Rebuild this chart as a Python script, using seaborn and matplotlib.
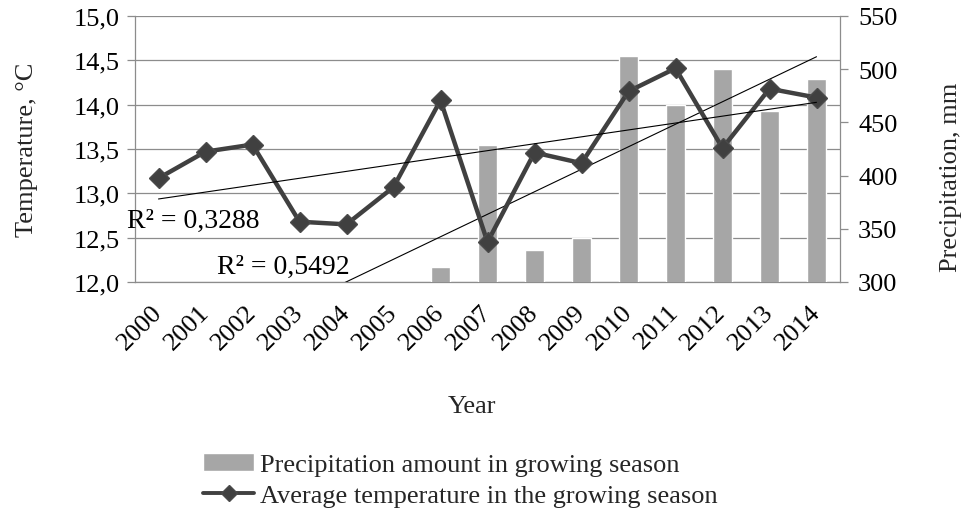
import numpy as np
import pandas as pd
import matplotlib
matplotlib.use("Agg")
import matplotlib.pyplot as plt
from matplotlib.ticker import FuncFormatter, MultipleLocator
import seaborn as sns

# ---------------- data ----------------
years = [str(y) for y in range(2000, 2015)]
temperature = [13.17, 13.47, 13.55, 12.68, 12.65, 13.07, 14.05, 12.45,
               13.46, 13.34, 14.15, 14.41, 13.51, 14.18, 14.08]
precipitation = [np.nan, np.nan, np.nan, np.nan, np.nan, np.nan,
                 314, 429, 330, 341, 512, 466, 500, 461, 491]
r2_temperature = "0,3288"
r2_precipitation = "0,5492"
label_precip = "Precipitation amount in growing season"
label_temp = "Average temperature in the growing season"
x_title = "Year"
y_left_title = "Temperature, °C"
y_right_title = "Precipitation, mm"

# ---------------- style ----------------
sns.set_theme(style="white")
plt.rcParams["font.family"] = ["Liberation Serif", "DejaVu Serif"]
FS = 19
plt.rcParams["font.size"] = FS

BAR = "#a6a6a6"
LINE = "#404040"
GRID = "#8c8c8c"

df = pd.DataFrame({"year": years, "temperature": temperature,
                   "precipitation": precipitation})
df["pos"] = np.arange(len(years))

fig = plt.figure(figsize=(9.65, 5.10), dpi=100)
fig.subplots_adjust(left=135 / 965, right=840 / 965,
                    top=1 - 17 / 510, bottom=1 - 283 / 510)
ax = fig.add_subplot(111)          # temperature axis (grid, left ticks)
ax2 = ax.twinx()                   # precipitation bars (right ticks)
ax3 = ax.twinx()                   # temperature line on top

# bars
sns.barplot(data=df, x="year", y="precipitation", order=years, ax=ax2,
            color=BAR, saturation=1, width=0.4, errorbar=None)
bars = ax2.patches

# precipitation trend line (fit over available years)
valid = df["precipitation"].notna()
pc = np.polyfit(df.loc[valid, "pos"], df.loc[valid, "precipitation"], 1)
xs = df["pos"].to_numpy(dtype=float)
ax2.plot(xs, np.polyval(pc, xs), color="black", lw=0.8, zorder=3)

# temperature line
sns.lineplot(data=df, x="pos", y="temperature", ax=ax3, color=LINE,
             lw=3.2, marker="D", markersize=10.5, markeredgecolor="#4a4a4a",
             markeredgewidth=1.0, zorder=4)
line = ax3.lines[0]
tc = np.polyfit(df["pos"], df["temperature"], 1)
ax3.plot(xs, np.polyval(tc, xs), color="black", lw=0.8, zorder=5)

# limits / ticks
ax.set_ylim(12, 15)
ax3.set_ylim(12, 15)
ax2.set_ylim(300, 550)
ax.set_xlim(-0.5, len(years) - 0.5)
ax.yaxis.set_major_locator(MultipleLocator(0.5))
ax.yaxis.set_major_formatter(FuncFormatter(lambda v, p: f"{v:.1f}".replace(".", ",")))
ax2.yaxis.set_major_locator(MultipleLocator(50))
ax2.yaxis.set_major_formatter(FuncFormatter(lambda v, p: f"{v:.0f}"))

ax.set_xticks(np.arange(len(years)))
ax.set_xticklabels(years, rotation=45, ha="right", va="center",
                   rotation_mode="anchor")
ax.tick_params(axis="x", length=0, pad=19, labelsize=FS, colors="black")
ax.tick_params(axis="y", length=6, width=0.9, color=GRID, pad=5,
               labelsize=FS, labelcolor="black", left=True)
ax2.tick_params(axis="y", length=6, width=0.9, color=GRID, pad=7,
                labelsize=FS, labelcolor="black", right=True)
ax3.set_axis_off()

ax.yaxis.grid(True, color=GRID, lw=0.9)
ax.xaxis.grid(False)
ax2.grid(False)

for s in ["top", "right"]:
    ax.spines[s].set_visible(False)
for s in ["left", "bottom"]:
    ax.spines[s].set_color(GRID)
    ax.spines[s].set_linewidth(0.9)
for s in ["top", "left", "bottom"]:
    ax2.spines[s].set_visible(False)
ax2.spines["right"].set_color(GRID)
ax2.spines["right"].set_linewidth(0.9)

ax2.set_xlabel("")
ax2.set_ylabel("")
ax3.set_xlabel("")
ax3.set_ylabel("")

# axis titles
ax.set_xlabel(x_title, fontsize=FS)
ax.xaxis.set_label_coords((472 - 135) / 705, -0.425)
ax.set_ylabel(y_left_title, fontsize=FS)
ax.yaxis.set_label_coords((38 - 135) / 705, 0.5)
ax2.set_ylabel(y_right_title, fontsize=FS)
ax2.yaxis.set_label_coords((940 - 135) / 705, 0.398)

# R² labels
ax3.text(-0.67, 12.69, f"R² = {r2_temperature}", fontsize=20,
         ha="left", va="center", color="black")
ax3.text(1.25, 12.18, f"R² = {r2_precipitation}", fontsize=20,
         ha="left", va="center", color="black")

# legend
leg = fig.legend(handles=[bars[6], line], labels=[label_precip, label_temp],
                 loc="upper left", bbox_to_anchor=(203 / 965, 1 - 454 / 510),
                 frameon=False, borderpad=0, borderaxespad=0, handlelength=1.95,
                 handletextpad=0.2, labelspacing=0.26, fontsize=FS)
for h in leg.legend_handles:
    if hasattr(h, "set_markersize"):
        h.set_markersize(8)
        h.set_linewidth(2.8)

fig.savefig("out.png", dpi=100)
